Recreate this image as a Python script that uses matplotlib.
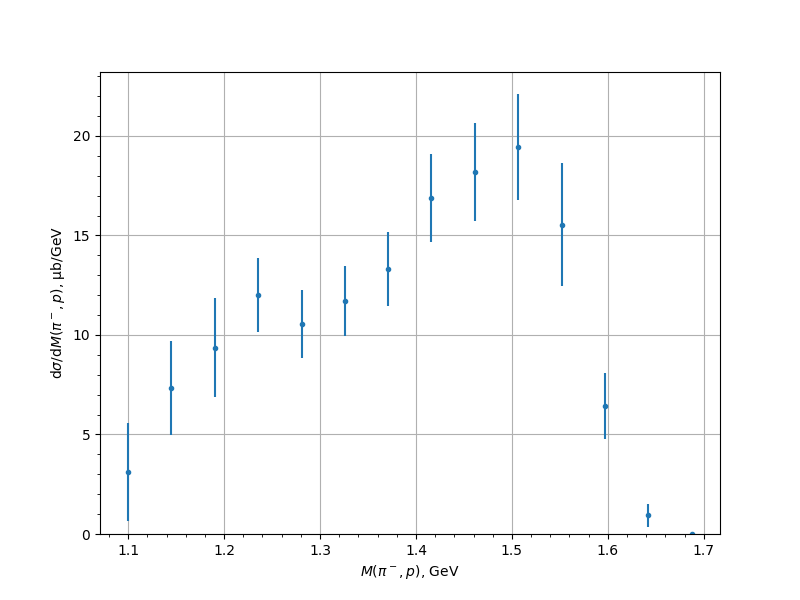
import matplotlib
matplotlib.use("Agg")
import matplotlib.pyplot as plt

# invariant mass bin centres, GeV
mass_gev = [1.100, 1.145, 1.190, 1.235, 1.281, 1.326, 1.371,
            1.416, 1.461, 1.506, 1.552, 1.597, 1.642, 1.6875]
# cross section and its error, ub/GeV
xsec = [3.12, 7.34, 9.35, 12.01, 10.55, 11.71, 13.32,
        16.88, 18.19, 19.45, 15.53, 6.43, 0.95, 0.0]
xsec_err = [2.45, 2.36, 2.49, 1.88, 1.71, 1.76, 1.88,
            2.21, 2.46, 2.66, 3.09, 1.68, 0.58, 0.0]

fig = plt.figure(figsize=(8, 6), dpi=100)
plt.errorbar(mass_gev, xsec, yerr=xsec_err, fmt='.')
plt.xlabel(r'$M(\pi^-, p)$, GeV')
plt.ylabel(r'd$\sigma$/d$M(\pi^-, p)$, μb/GeV')
plt.ylim(bottom=0)
plt.minorticks_on()
plt.grid(True)

plt.savefig("out.png")
